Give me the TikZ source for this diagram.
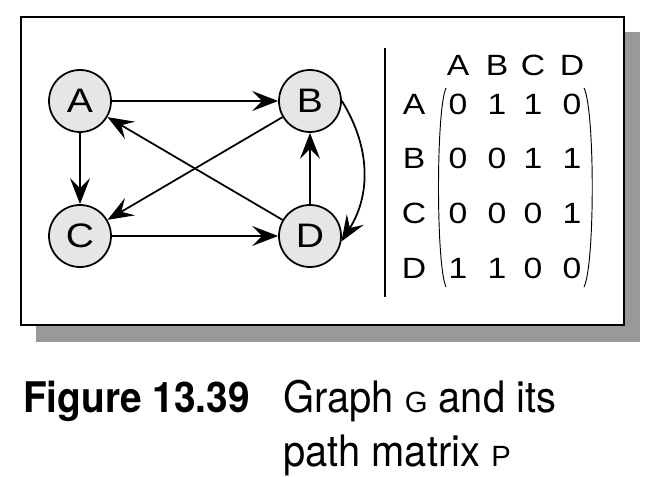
\documentclass[tikz,border=0pt]{standalone}
\usepackage{fontspec}
\setmainfont{Liberation Sans}
\newfontfamily\widesans[FakeStretch=1.15]{Liberation Sans}
\newfontfamily\capfont[FakeStretch=0.92]{TeX Gyre Heros}
\newfontfamily\figfont[FakeStretch=0.92]{TeX Gyre Heros}
\usetikzlibrary{arrows.meta}
\definecolor{nodegray}{HTML}{E6E6E6}
\definecolor{shadowgray}{HTML}{999999}
\newcommand{\smallsans}[1]{{\rmfamily\fontsize{25}{30}\selectfont #1}}
\tikzset{
  vertex/.style={circle,draw,line width=1.5pt,fill=nodegray,minimum size=1.86cm,inner sep=0pt,font=\widesans\fontsize{29}{36}\selectfont},
  edge/.style={line width=1.5pt,-{Stealth[length=0.78cm,width=0.6cm,inset=0.3cm]}},
  entry/.style={inner sep=0pt,font=\widesans\fontsize{25}{30}\selectfont},
  capline/.style={inner sep=0pt,anchor=base west,font=\capfont\fontsize{37}{44}\selectfont},
}

\begin{document}
\begin{tikzpicture}[x=0.03cm,y=-0.03cm]
\useasboundingbox (0,0) rectangle (663,477);
\fill[shadowgray] (36,32) rectangle (640,342);
\draw[line width=1.8pt,fill=white] (21,17) rectangle (624,325);
\node[vertex] (A) at (80,101) {A};
\node[vertex] (B) at (310,101) {B};
\node[vertex] (C) at (80,236) {C};
\node[vertex] (D) at (310,236) {D};
\draw[edge] (A) -- (B);
\draw[edge] (A) -- (C);
\draw[edge] (B) -- (C);
\draw[edge] (C) -- (D);
\draw[edge] (D) -- (A);
\draw[edge] (D) -- (B);
\draw[edge] (B.east) to[bend left=32] (D.-10);
\draw[line width=1.6pt] (385,48) -- (385,297);
\foreach \c/\x in {A/458,B/497,C/533,D/572}
  \node[entry] (h-\c) at (\x,65) {\c};
\foreach \r/\y/\a/\b/\cc/\d in {A/104/0/1/1/0,B/158/0/0/1/1,C/213/0/0/0/1,D/268/1/1/0/0}{
  \node[entry] (r-\r) at (414,\y) {\r};
  \node[entry] (m-\r-A) at (458,\y) {\a};
  \node[entry] (m-\r-B) at (497,\y) {\b};
  \node[entry] (m-\r-C) at (533,\y) {\cc};
  \node[entry] (m-\r-D) at (572,\y) {\d};
}
\draw[line width=0.8pt] (446,88) .. controls (436,110) and (436,265) .. (446,287);
\draw[line width=0.8pt] (584,88) .. controls (595,110) and (595,265) .. (584,287);
\node[capline,font=\figfont\bfseries\fontsize{36}{43}\selectfont] (fig) at (23,412) {Figure 13.39};
\node[capline] (cap1) at (283,412) {Graph \smallsans{G} and its};
\node[capline] (cap2) at (283,466) {path matrix \smallsans{P}};
\end{tikzpicture}
\end{document}
